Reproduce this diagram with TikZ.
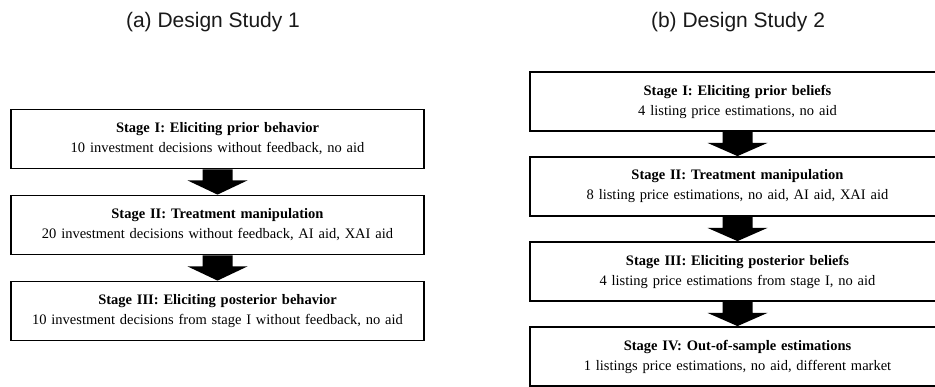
\documentclass[tikz,border=0pt]{standalone}
\usepackage{fontspec}
\setmainfont{Liberation Serif}
\newfontfamily\titlefont{Liberation Sans}
\usetikzlibrary{calc}
\tikzset{
  stagebox/.style={draw=black, line width=1.8pt, fill=white, minimum height=59pt,
    inner sep=0pt, align=center, font=\fontsize{14.5}{20}\selectfont, text=black},
  leftbox/.style={stagebox, minimum width=413pt, text width=410pt},
  rightbox/.style={stagebox, minimum width=415pt, text width=410pt},
  titletext/.style={font=\titlefont\fontsize{21}{24}\selectfont, text=black!90, anchor=base}
}
\newcommand{\blockarrow}[2]{%
  \fill[black] ($(#1.south)+(-15pt,0)$) -- ($(#1.south)+(15pt,0)$) -- ($(#1.south)+(15pt,-11pt)$)
    -- ($(#1.south)+(30pt,-11pt)$) -- (#2.north) -- ($(#1.south)+(-30pt,-11pt)$)
    -- ($(#1.south)+(-15pt,-11pt)$) -- cycle;}
\begin{document}
\begin{tikzpicture}[x=1pt,y=1pt]
\useasboundingbox (0,0) rectangle (935,-387);
\clip (0,0) rectangle (935,-387);
\fill[white] (0,0) rectangle (935,-387);

\node[titletext] (ta) at (213,-28) {(a) Design Study 1};
\node[titletext] (tb) at (738,-28) {(b) Design Study 2};

\node[leftbox] (a1) at (217.5,-139) {\textbf{Stage I: Eliciting prior behavior}\\10 investment decisions without feedback, no aid};
\node[leftbox] (a2) at (217.5,-225) {\textbf{Stage II: Treatment manipulation}\\20 investment decisions without feedback, AI aid, XAI aid};
\node[leftbox] (a3) at (217.5,-311) {\textbf{Stage III: Eliciting posterior behavior}\\10 investment decisions from stage I without feedback, no aid};

\node[rightbox] (b1) at (737.5,-101.5) {\textbf{Stage I: Eliciting prior beliefs}\\4 listing price estimations, no aid};
\node[rightbox] (b2) at (737.5,-186.5) {\textbf{Stage II: Treatment manipulation}\\8 listing price estimations, no aid, AI aid, XAI aid};
\node[rightbox] (b3) at (737.5,-271.5) {\textbf{Stage III: Eliciting posterior beliefs}\\4 listing price estimations from stage I, no aid};
\node[rightbox] (b4) at (737.5,-356.5) {\textbf{Stage IV: Out-of-sample estimations}\\1 listings price estimations, no aid, different market};

\blockarrow{a1}{a2}
\blockarrow{a2}{a3}
\blockarrow{b1}{b2}
\blockarrow{b2}{b3}
\blockarrow{b3}{b4}
\end{tikzpicture}
\end{document}
